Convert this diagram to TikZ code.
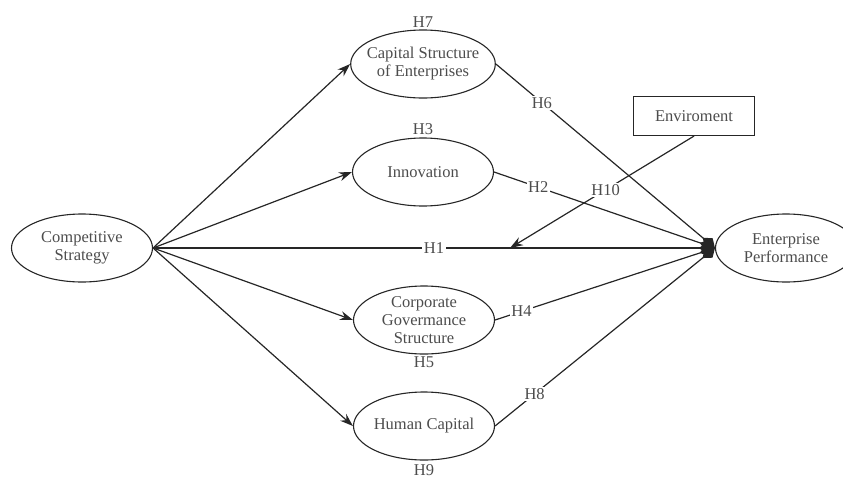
\documentclass[tikz,border=0pt]{standalone}
\usepackage{fontspec}
\setmainfont{Liberation Serif}
\usetikzlibrary{arrows.meta,shapes.geometric,positioning}

\begin{document}
\begin{tikzpicture}[x=1pt, y=1pt, >={Stealth[length=13pt,width=9pt]},
    var/.style={ellipse, draw=black!85, line width=1.1pt, minimum width=141pt, minimum height=68pt,
                inner xsep=-5pt, inner ysep=-6pt, align=center, text=black!70,
                font=\fontsize{16.5}{18}\selectfont},
    box/.style={rectangle, draw=black!85, line width=1.1pt, minimum width=121pt, minimum height=39pt,
                text=black!70, font=\fontsize{16.5}{18}\selectfont},
    hyp/.style={fill=white, inner sep=1.5pt, text=black!70, font=\fontsize{16.5}{16}\selectfont},
    link/.style={every edge/.append style={draw=black!85, line width=1.2pt}},
    merge/.style={link, -{Diamond[length=16pt,width=12pt]}}]
    \useasboundingbox (0,0) rectangle (843,-480);

    \node[var]   (strategy)    at (82,-248)  {Competitive\\Strategy};
    \node[var]   (capital)     at (423,-64)  {Capital Structure\\of Enterprises};
    \node[var]   (innovation)  at (423,-172) {Innovation};
    \node[var]   (governance)  at (424,-320) {Corporate\\Govermance\\Structure};
    \node[var]   (human)       at (424,-426) {Human Capital};
    \node[var]   (performance) at (786,-248) {Enterprise\\Performance};
    \node[box]   (environment) at (694,-116) {Enviroment};

    % hypothesis labels above / below the mediators
    \node[hyp]   (h7) [above=0pt of capital]    {H7};
    \node[hyp]   (h3) [above=1pt of innovation] {H3};
    \node[hyp]   (h5) [below=0pt of governance] {H5};
    \node[hyp]   (h9) [below=2pt of human]      {H9};

    \coordinate  (hit) at (510,-248);

    \path[link, ->] (strategy.east) edge (capital.west)
                                    edge (innovation.west)
                                    edge (governance.west)
                                    edge (human.west);
    \path[merge]    (strategy.east) edge node[hyp]           {H1}  (performance.west)
                    (capital.east)  edge node[hyp, pos=0.21] {H6}  (performance.west)
                    (innovation.east) edge node[hyp, pos=0.2] {H2} (performance.west)
                    (governance.east) edge node[hyp, pos=0.12] {H4} (performance.west)
                    (human.east)    edge node[hyp, pos=0.18] {H8}  (performance.west);
    \path[link, ->] (environment.south) edge node[hyp, pos=0.48] {H10} (hit);
\end{tikzpicture}
\end{document}
